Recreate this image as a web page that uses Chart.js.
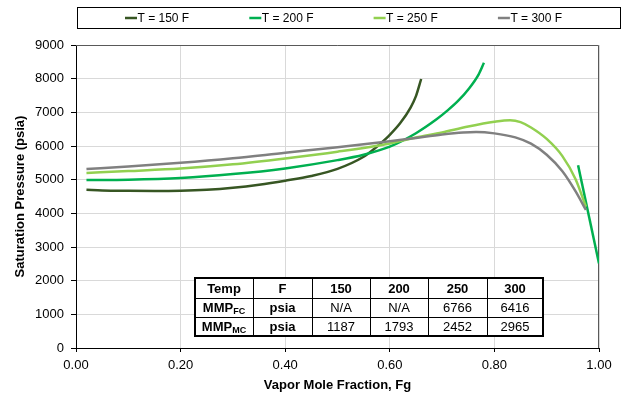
<!DOCTYPE html>
<html>
<head>
<meta charset="utf-8">
<script src="https://cdn.jsdelivr.net/npm/chart.js@4"></script>
<style>
  html, body { margin: 0; padding: 0; background: #fff; }
  #wrap { width: 624px; height: 393px; }
</style>
</head>
<body>
<div id="wrap"><canvas id="satChart" width="624" height="393"></canvas></div>
<script>
// vapor mole fraction (x) and saturation pressure (psia) per temperature
const fg150 = [0.02, 0.05, 0.10, 0.15, 0.20, 0.25, 0.30, 0.35, 0.40, 0.45, 0.50, 0.55, 0.57, 0.58, 0.60, 0.62, 0.64, 0.65, 0.66];
const p150  = [4700, 4680, 4668, 4662, 4670, 4700, 4760, 4850, 4970, 5110, 5320, 5680, 5910, 6040, 6330, 6680, 7150, 7480, 7990];

const fg200 = [0.02, 0.10, 0.20, 0.30, 0.40, 0.50, 0.55, 0.60, 0.65, 0.69, 0.71, 0.73, 0.75, 0.77, 0.78];
const p200  = [4990, 5000, 5050, 5165, 5335, 5580, 5740, 5980, 6380, 6800, 7050, 7330, 7680, 8130, 8470];
const fg200b = [0.96, 1.00];
const p200b  = [5430, 2510];

const fg250 = [0.02, 0.10, 0.20, 0.30, 0.40, 0.50, 0.60, 0.65, 0.70, 0.75, 0.80, 0.83, 0.85, 0.87, 0.90, 0.93, 0.955, 0.975];
const p250  = [5200, 5255, 5330, 5455, 5630, 5830, 6075, 6250, 6405, 6580, 6720, 6766, 6710, 6550, 6210, 5700, 5020, 4200];

const fg300 = [0.02, 0.10, 0.20, 0.30, 0.40, 0.50, 0.60, 0.65, 0.70, 0.74, 0.765, 0.80, 0.84, 0.87, 0.90, 0.93, 0.955, 0.975];
const p300  = [5315, 5390, 5500, 5635, 5800, 5960, 6140, 6240, 6340, 6400, 6416, 6375, 6255, 6070, 5740, 5250, 4660, 4100];

// table values
const tempLabels = ['150', '200', '250', '300'];
const mmpFC = ['N/A', 'N/A', '6766', '6416'];
const mmpMC = ['1187', '1793', '2452', '2965'];

const FONT = "'Liberation Sans', Arial, sans-serif";

function pts(xs, ys) {
    return xs.map((x, i) => ({ x: x, y: ys[i] }));
}

function series(label, xs, ys, color, order, hideInLegend) {
    return {
        label: label,
        data: pts(xs, ys),
        borderColor: color,
        backgroundColor: color,
        borderWidth: 2.5,
        pointRadius: 0,
        cubicInterpolationMode: 'monotone',
        fill: false,
        order: order,
        hideInLegend: !!hideInLegend
    };
}

// boxed legend along the top
const boxLegend = {
    id: 'boxLegend',
    afterDraw(chart) {
        const ctx = chart.ctx;
        ctx.save();
        ctx.strokeStyle = '#000';
        ctx.lineWidth = 1;
        ctx.strokeRect(77.5, 7.5, 543, 21);
        ctx.font = '12px ' + FONT;
        ctx.textBaseline = 'middle';
        ctx.fillStyle = '#000';
        let i = 0;
        chart.data.datasets.forEach(ds => {
            if (ds.hideInLegend) return;
            const x = 125 + i * 124.3;
            ctx.strokeStyle = ds.borderColor;
            ctx.lineWidth = 2.5;
            ctx.beginPath();
            ctx.moveTo(x, 18);
            ctx.lineTo(x + 12, 18);
            ctx.stroke();
            ctx.fillText(ds.label, x + 12.5, 18.5);
            i++;
        });
        ctx.restore();
    }
};

// frame around plot area
const plotFrame = {
    id: 'plotFrame',
    beforeDatasetsDraw(chart) {
        const a = chart.chartArea;
        const ctx = chart.ctx;
        ctx.save();
        ctx.strokeStyle = '#595959';
        ctx.lineWidth = 1;
        ctx.beginPath();
        ctx.moveTo(a.left, a.top + 0.5);
        ctx.lineTo(a.right - 0.5, a.top + 0.5);
        ctx.lineTo(a.right - 0.5, a.bottom);
        ctx.stroke();
        ctx.restore();
    }
};

// MMP table inside the plot
const mmpTable = {
    id: 'mmpTable',
    afterDraw(chart) {
        const ctx = chart.ctx;
        const xs = chart.scales.x;
        const ys = chart.scales.y;
        const left = Math.round(xs.getPixelForValue(0.2275));
        const top = Math.round(ys.getPixelForValue(2080));
        const colW = [58, 59, 58, 58, 59, 56];
        const rowH = [20, 19, 19];
        const totalW = colW.reduce((a, b) => a + b, 0);
        const totalH = rowH.reduce((a, b) => a + b, 0);

        ctx.save();
        ctx.fillStyle = '#fff';
        ctx.fillRect(left, top, totalW, totalH);

        const rows = [
            [{ t: 'Temp', b: true }, { t: 'F', b: true }].concat(tempLabels.map(t => ({ t: t, b: true }))),
            [{ t: 'MMP', sub: 'FC', b: true }, { t: 'psia', b: true }].concat(mmpFC.map(t => ({ t: t }))),
            [{ t: 'MMP', sub: 'MC', b: true }, { t: 'psia', b: true }].concat(mmpMC.map(t => ({ t: t })))
        ];

        ctx.fillStyle = '#000';
        ctx.textBaseline = 'middle';
        let y = top;
        rows.forEach((row, r) => {
            let x = left;
            row.forEach((cell, c) => {
                const cx = x + colW[c] / 2;
                const cy = y + rowH[r] / 2 + 1;
                const mainFont = (cell.b ? 'bold ' : '') + '13px ' + FONT;
                if (cell.sub) {
                    ctx.font = mainFont;
                    const w1 = ctx.measureText(cell.t).width;
                    ctx.font = 'bold 9px ' + FONT;
                    const w2 = ctx.measureText(cell.sub).width;
                    const sx = cx - (w1 + w2) / 2;
                    ctx.textAlign = 'left';
                    ctx.font = mainFont;
                    ctx.fillText(cell.t, sx, cy);
                    ctx.font = 'bold 9px ' + FONT;
                    ctx.fillText(cell.sub, sx + w1, cy + 3);
                } else {
                    ctx.font = mainFont;
                    ctx.textAlign = 'center';
                    ctx.fillText(cell.t, cx, cy);
                }
                x += colW[c];
            });
            y += rowH[r];
        });

        // inner lines
        ctx.strokeStyle = '#000';
        ctx.lineWidth = 1;
        ctx.beginPath();
        let gx = left;
        for (let c = 0; c < colW.length - 1; c++) {
            gx += colW[c];
            ctx.moveTo(gx + 0.5, top);
            ctx.lineTo(gx + 0.5, top + totalH);
        }
        let gy = top;
        for (let r = 0; r < rowH.length - 1; r++) {
            gy += rowH[r];
            ctx.moveTo(left, gy + 0.5);
            ctx.lineTo(left + totalW, gy + 0.5);
        }
        ctx.stroke();
        ctx.lineWidth = 2;
        ctx.strokeRect(left, top, totalW, totalH);
        ctx.restore();
    }
};

const canvas = document.getElementById('satChart');
new Chart(canvas.getContext('2d'), {
    type: 'line',
    data: {
        datasets: [
            series('T = 150 F', fg150, p150, '#375623', 4),
            series('T = 200 F', fg200, p200, '#00B050', 3),
            series('T = 250 F', fg250, p250, '#92D050', 2),
            series('T = 300 F', fg300, p300, '#808080', 1),
            series('T = 200 F', fg200b, p200b, '#00B050', 3, true)
        ]
    },
    options: {
        responsive: false,
        devicePixelRatio: 1,
        animation: false,
        layout: { padding: { top: 45, right: 25, left: 0, bottom: 0 } },
        plugins: {
            legend: { display: false },
            tooltip: { enabled: false }
        },
        scales: {
            x: {
                type: 'linear',
                min: 0,
                max: 1,
                afterFit(scale) { scale.height = 45; },
                border: { color: '#000', width: 1 },
                grid: { color: '#d9d9d9', tickColor: '#000', tickLength: 4 },
                ticks: {
                    stepSize: 0.2,
                    padding: 6,
                    color: '#000',
                    font: { family: FONT, size: 13 },
                    maxRotation: 0,
                    callback: v => v.toFixed(2)
                },
                title: {
                    display: true,
                    text: 'Vapor Mole Fraction, Fg',
                    color: '#000',
                    font: { family: FONT, size: 13, weight: 'bold', lineHeight: 1.15 },
                    padding: { top: 0, bottom: 0 }
                }
            },
            y: {
                min: 0,
                max: 9000,
                afterFit(scale) { scale.width = 76; },
                border: { color: '#000', width: 1 },
                grid: { color: '#d9d9d9', tickColor: '#000', tickLength: 5 },
                ticks: {
                    stepSize: 1000,
                    padding: 7,
                    color: '#000',
                    font: { family: FONT, size: 13 },
                    callback: v => String(v)
                },
                title: {
                    display: true,
                    text: 'Saturation Pressure (psia)',
                    color: '#000',
                    font: { family: FONT, size: 13, weight: 'bold', lineHeight: 1.15 },
                    padding: { top: 13, bottom: 0 }
                }
            }
        }
    },
    plugins: [boxLegend, plotFrame, mmpTable]
});
</script>
</body>
</html>
